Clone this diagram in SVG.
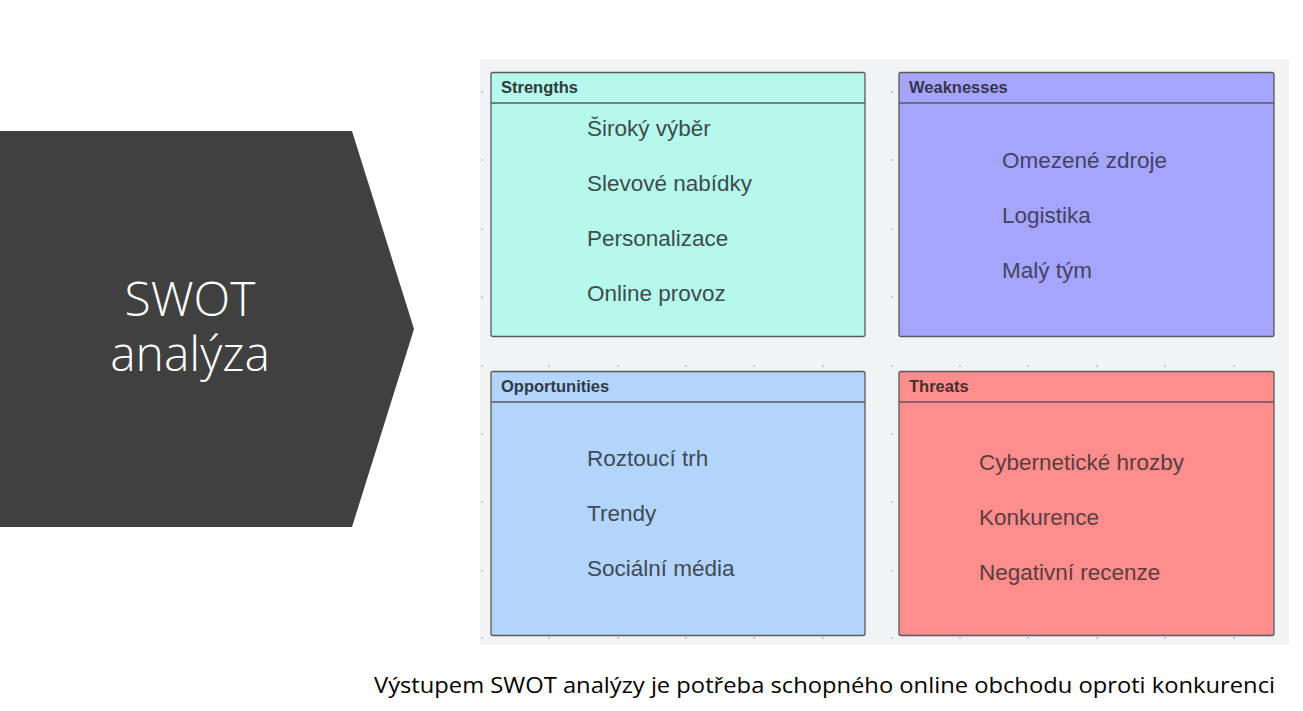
<svg xmlns="http://www.w3.org/2000/svg" width="1303" height="711" viewBox="0 0 1303 711">
<style>
.box{stroke:#5a5a5a;stroke-width:1.3}
.hdr{font-family:"Liberation Sans",Arial,sans-serif;font-weight:bold;font-size:16.5px}
.item{font-family:"Liberation Sans",Arial,sans-serif;font-size:22.5px}
.dot{fill:#b9bcc0}
</style>
<rect width="1303" height="711" fill="#ffffff"/>
<g id="title">
<polygon points="0,131 352,131 414,329 352,527 0,527" fill="#404040"/>
<text x="190" y="316" text-anchor="middle" font-family="Open Sans, Liberation Sans, sans-serif" font-weight="300" font-size="48" fill="#ffffff">SWOT</text>
<text x="190" y="371" text-anchor="middle" font-family="Open Sans, Liberation Sans, sans-serif" font-weight="300" font-size="48" fill="#ffffff">analýza</text>
</g>
<g id="panel">
<rect x="480" y="59" width="809" height="586" fill="#f2f3f5"/>
<g class="dot">
<circle cx="482" cy="92" r="1"/><circle cx="482" cy="160" r="1"/><circle cx="482" cy="229" r="1"/><circle cx="482" cy="297" r="1"/>
<circle cx="482" cy="434" r="1"/><circle cx="482" cy="502" r="1"/><circle cx="482" cy="571" r="1"/>
<circle cx="892" cy="92" r="1"/><circle cx="892" cy="160" r="1"/><circle cx="892" cy="229" r="1"/><circle cx="892" cy="297" r="1"/>
<circle cx="892" cy="434" r="1"/><circle cx="892" cy="502" r="1"/><circle cx="892" cy="571" r="1"/>
<circle cx="482" cy="366" r="1"/><circle cx="549" cy="366" r="1"/><circle cx="618" cy="366" r="1"/><circle cx="686" cy="366" r="1"/><circle cx="754" cy="366" r="1"/><circle cx="823" cy="366" r="1"/><circle cx="892" cy="366" r="1"/><circle cx="960" cy="366" r="1"/><circle cx="1028" cy="366" r="1"/><circle cx="1097" cy="366" r="1"/><circle cx="1165" cy="366" r="1"/><circle cx="1234" cy="366" r="1"/>
<circle cx="482" cy="638" r="1"/><circle cx="549" cy="638" r="1"/><circle cx="618" cy="638" r="1"/><circle cx="686" cy="638" r="1"/><circle cx="754" cy="638" r="1"/><circle cx="823" cy="638" r="1"/><circle cx="892" cy="638" r="1"/><circle cx="960" cy="638" r="1"/><circle cx="1028" cy="638" r="1"/><circle cx="1097" cy="638" r="1"/><circle cx="1165" cy="638" r="1"/><circle cx="1234" cy="638" r="1"/>
</g>
</g>
<g id="strengths">
<rect class="box" x="491" y="72.5" width="374" height="264" rx="2" fill="#b5f9ec"/>
<line class="box" x1="491" y1="103" x2="865" y2="103"/>
<text class="hdr" x="501" y="93" fill="#2f3a3a">Strengths</text>
<g class="item" fill="#3e4c4c">
<text x="587" y="136">Široký výběr</text>
<text x="587" y="191">Slevové nabídky</text>
<text x="587" y="246">Personalizace</text>
<text x="587" y="301">Online provoz</text>
</g>
</g>
<g id="weaknesses">
<rect class="box" x="899" y="72.5" width="375" height="264" rx="2" fill="#a5a5fd"/>
<line class="box" x1="899" y1="103" x2="1274" y2="103"/>
<text class="hdr" x="909" y="93" fill="#35354d">Weaknesses</text>
<g class="item" fill="#434363">
<text x="1002" y="168">Omezené zdroje</text>
<text x="1002" y="223">Logistika</text>
<text x="1002" y="278">Malý tým</text>
</g>
</g>
<g id="opportunities">
<rect class="box" x="491" y="371.5" width="374" height="264" rx="2" fill="#b3d5fc"/>
<line class="box" x1="491" y1="402" x2="865" y2="402"/>
<text class="hdr" x="501" y="392" fill="#2f3945">Opportunities</text>
<g class="item" fill="#3e4a59">
<text x="587" y="466">Roztoucí trh</text>
<text x="587" y="521">Trendy</text>
<text x="587" y="576">Sociální média</text>
</g>
</g>
<g id="threats">
<rect class="box" x="899" y="371.5" width="375" height="264" rx="2" fill="#fe8d8d"/>
<line class="box" x1="899" y1="402" x2="1274" y2="402"/>
<text class="hdr" x="909" y="392" fill="#4a2e2e">Threats</text>
<g class="item" fill="#5c3c3c">
<text x="979" y="470">Cybernetické hrozby</text>
<text x="979" y="525">Konkurence</text>
<text x="979" y="580">Negativní recenze</text>
</g>
</g>
<g id="connectors"></g>
<g id="caption">
<text x="374" y="693" font-family="Open Sans, Liberation Sans, sans-serif" font-size="21" fill="#000000" textLength="901" lengthAdjust="spacingAndGlyphs">Výstupem SWOT analýzy je potřeba schopného online obchodu oproti konkurenci</text>
</g>
</svg>
